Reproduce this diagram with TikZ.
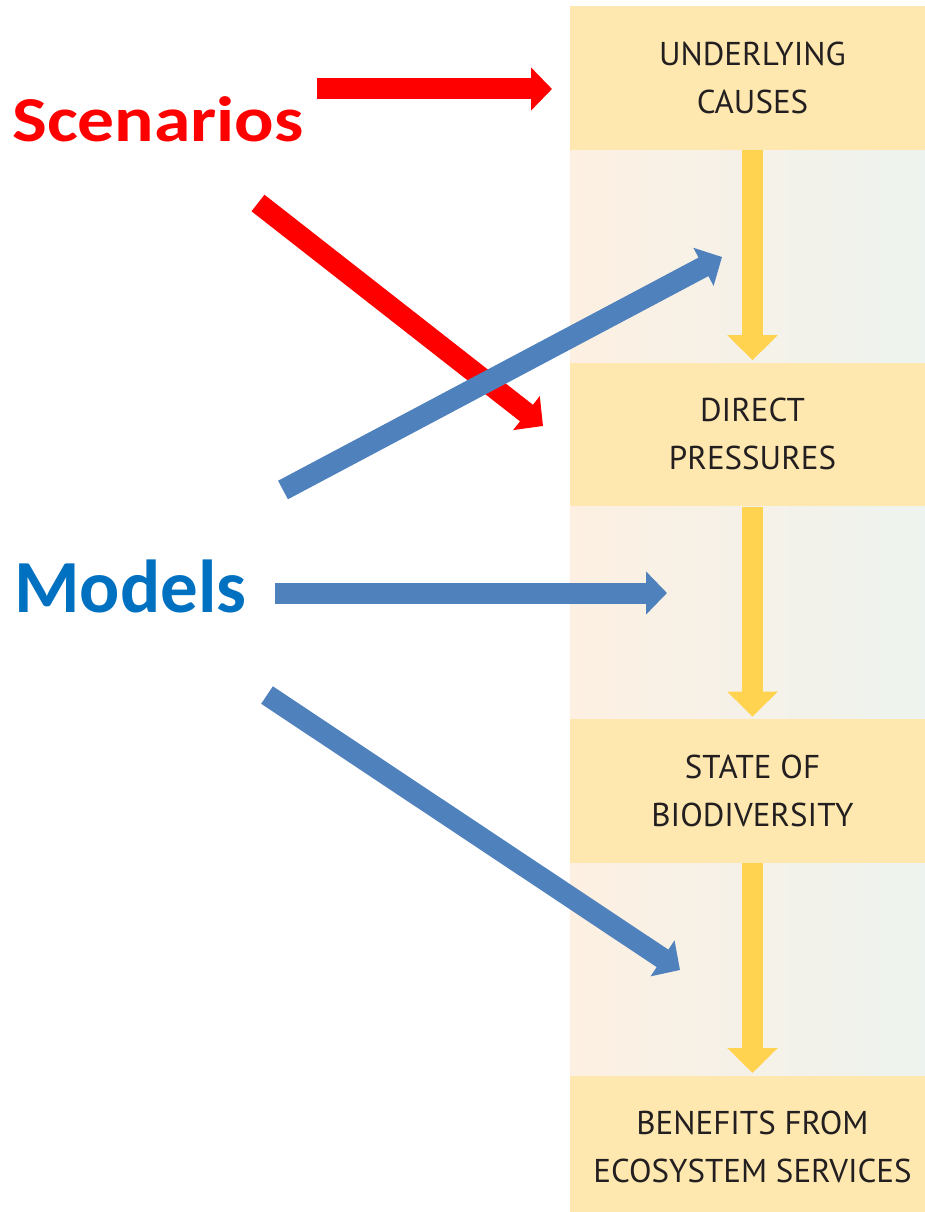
\documentclass[tikz,border=0pt]{standalone}
\usepackage{fontspec}
\setmainfont{Carlito}
\newfontfamily\stagefont{PT Sans}
\newfontfamily\widetagfont[FakeStretch=1.15]{Carlito}
\usetikzlibrary{positioning,arrows.meta}

\definecolor{stageyellow}{HTML}{FEE8B0}
\definecolor{flowyellow}{HTML}{FFD34F}
\definecolor{bandpeach}{HTML}{FDF0E2}
\definecolor{bandcream}{HTML}{FDFAF0}
\definecolor{bandgreen}{HTML}{EDF3EF}
\definecolor{modelblue}{HTML}{0070C0}
\definecolor{arrowblue}{HTML}{4F81BD}
\definecolor{stagetext}{HTML}{231F20}

\begin{document}
\begin{tikzpicture}[x=1pt,y=-1pt,
    stage/.style={rectangle,fill=stageyellow,inner sep=0pt,
		minimum width=365pt,minimum height=144pt,align=center,
		text=stagetext,font=\stagefont\fontsize{33}{48}\selectfont},
    band/.style={left color=bandpeach,middle color=bandcream,right color=bandgreen},
    flow/.style={flowyellow,line width=21pt,
		-{Triangle[width=49pt,length=25pt]},shorten >=2pt},
% Side labels and their fat arrows
    tag/.style={anchor=base west,inner sep=0pt,font=\bfseries},
    fat/.style={line width=21pt,-{Triangle[width=42pt,length=21pt]}}
    ]
    \useasboundingbox (0,0) rectangle (924,1212);

    % Place nodes
    \node [stage] (causes) at (752.5,78) {UNDERLYING\\CAUSES};
    \node [stage, below=212pt of causes] (pressures) {DIRECT\\PRESSURES};
    \node [stage, below=212pt of pressures] (state) {STATE OF\\BIODIVERSITY};
    \node [stage, below=212pt of state] (benefits) {BENEFITS FROM\\ECOSYSTEM SERVICES};

    \node [tag, text=red, font=\widetagfont\bfseries\fontsize{64}{70}\selectfont] (scenarios) at (12,142) {Scenarios};
    \node [tag, text=modelblue, font=\bfseries\fontsize{75}{80}\selectfont] (models) at (14,612) {Models};

    \coordinate (scen_a) at (317,89);
    \coordinate (scen_a_tip) at (552,89);
    \coordinate (scen_b) at (258,203);
    \coordinate (scen_b_tip) at (543,426);
    \coordinate (mod_a) at (283,490);
    \coordinate (mod_a_tip) at (722,257);
    \coordinate (mod_b) at (275,593);
    \coordinate (mod_b_tip) at (667,593);
    \coordinate (mod_c) at (267,695);
    \coordinate (mod_c_tip) at (680,970);

    % Draw bands
    \shade [band] (causes.south west) rectangle (pressures.north east);
    \shade [band] (pressures.south west) rectangle (state.north east);
    \shade [band] (state.south west) rectangle (benefits.north east);

    % Draw edges
    \draw [flow] (causes) -- (pressures);
    \draw [flow] (pressures) -- (state);
    \draw [flow] (state) -- (benefits);

    \draw [fat, red] (scen_a) -- (scen_a_tip);
    \draw [fat, red] (scen_b) -- (scen_b_tip);
    \draw [fat, arrowblue] (mod_a) -- (mod_a_tip);
    \draw [fat, arrowblue] (mod_b) -- (mod_b_tip);
    \draw [fat, arrowblue] (mod_c) -- (mod_c_tip);

\end{tikzpicture}
\end{document}
